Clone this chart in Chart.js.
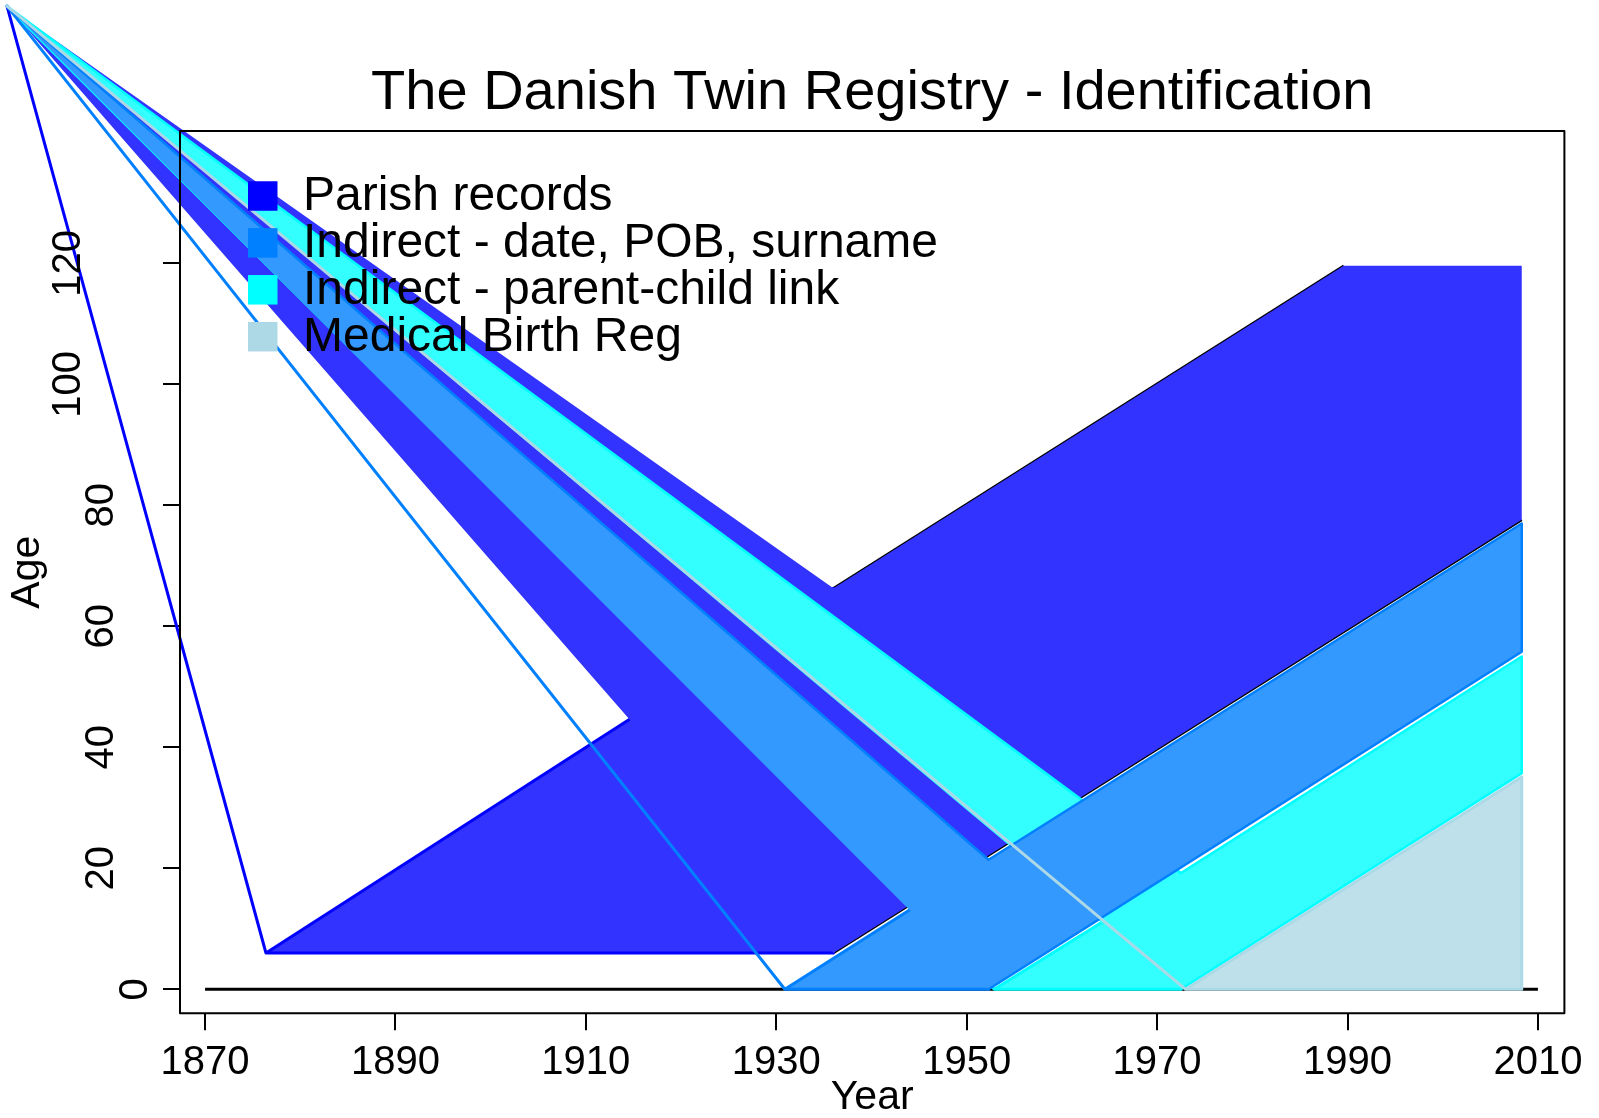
<!DOCTYPE html>
<html>
<head>
<meta charset="utf-8">
<script src="https://cdn.jsdelivr.net/npm/chart.js@4.4.1/dist/chart.umd.min.js"></script>
<style>
html,body{margin:0;padding:0;background:#ffffff;overflow:hidden}
canvas{display:block}
</style>
</head>
<body>
<canvas id="c" width="1599" height="1118"></canvas>
<script>
// ------------------------------------------------------------------
// Data (x = calendar year, y = age)
// ------------------------------------------------------------------
const chartTitle = 'The Danish Twin Registry - Identification';
const groupNames = ['Parish records', 'Indirect - date, POB, surname', 'Indirect - parent-child link', 'Medical Birth Reg'];
const groupLineColors = ['#0000FF', '#0080FF', '#00FFFF', '#ADD8E6'];
const groupFillColors = ['#3333FF', '#3399FF', '#33FFFF', '#BDE0EB'];
const xTickLabels = ['1870', '1890', '1910', '1930', '1950', '1970', '1990', '2010'];
const yTickLabels = ['0', '20', '40', '60', '80', '100', '120'];

// stray vertex shared by every polygon (top-left corner of the picture)
const cornerYear = [1849.2];
const cornerAge = [162.5];

// Parish records
const parishFirstYears = [1876.4, 1936.0, 1936.0];
const parishFirstAges  = [6.0, 6.0, 66.3];
const parishLaterYears = [1936.0, 2008.3, 2008.3, 1989.6, 1936.0];
const parishLaterAges  = [6.0, 77.6, 119.6, 119.6, 66.3];

// Indirect - date, POB, surname
const indirectFirstYears = [1930.9, 1952.3, 1952.3];
const indirectFirstAges  = [0.0, 0.0, 21.4];
const indirectLaterYears = [1952.3, 2008.3, 2008.3, 1952.3];
const indirectLaterAges  = [0.0, 55.8, 77.0, 21.4];

// Indirect - parent-child link
const parentFirstYears = [1952.9, 1972.5, 1972.5];
const parentFirstAges  = [0.0, 0.0, 19.2];
const parentLaterYears = [1972.5, 2008.3, 2008.3, 1972.5];
const parentLaterAges  = [0.0, 35.7, 55.0, 19.2];

// Medical Birth Reg
const mbrFirstYears = [1973.0, 2008.3, 2008.3];
const mbrFirstAges  = [0.0, 0.0, 35.1];

// black reference lines
const zeroLineYears = [1870, 2010];
const zeroLineAges  = [0, 0];
const upperCohortYears = [1936.0, 1989.6];
const upperCohortAges  = [66.3, 119.6];
const lowerCohortYears = [1936.0, 2008.3];
const lowerCohortAges  = [6.0, 77.6];

// ------------------------------------------------------------------
const FONT = '"Liberation Sans", Arial, Helvetica, sans-serif';
const toPts = (xs, ys) => xs.map((v, i) => ({x: v, y: ys[i]}));
const corner = {x: cornerYear[0], y: cornerAge[0]};

function firstPiece(xs, ys, g) {
  const p = toPts(xs, ys);
  return {role: 'first', group: g, data: [corner, p[0], p[1], p[2], p[0]],
          showLine: false, pointRadius: 0, pointHoverRadius: 0};
}
function laterPiece(xs, ys, g, stroke) {
  return {role: 'later', group: g, stroke: stroke, data: [corner].concat(toPts(xs, ys)),
          showLine: false, pointRadius: 0, pointHoverRadius: 0};
}
function refLine(xs, ys, w) {
  return {role: 'ref', data: toPts(xs, ys), showLine: true, borderColor: '#000000',
          borderWidth: w, pointRadius: 0, pointHoverRadius: 0, fill: false};
}

const datasets = [
  refLine(zeroLineYears, zeroLineAges, 3),
  refLine(upperCohortYears, upperCohortAges, 2.5),
  refLine(lowerCohortYears, lowerCohortAges, 2.5),
  firstPiece(parishFirstYears, parishFirstAges, 0),
  laterPiece(parishLaterYears, parishLaterAges, 0, false),
  firstPiece(parentFirstYears, parentFirstAges, 2),
  laterPiece(parentLaterYears, parentLaterAges, 2, true),
  firstPiece(indirectFirstYears, indirectFirstAges, 1),
  laterPiece(indirectLaterYears, indirectLaterAges, 1, true),
  firstPiece(mbrFirstYears, mbrFirstAges, 3)
];

const lexisPlugin = {
  id: 'lexisPolygons',
  afterDatasetsDraw(chart) {
    const {ctx, chartArea: a, scales: {x, y}} = chart;
    const px = d => [x.getPixelForValue(d.x), y.getPixelForValue(d.y)];
    const trace = pts => { ctx.beginPath(); pts.forEach((q, i) => i ? ctx.lineTo(q[0], q[1]) : ctx.moveTo(q[0], q[1])); };
    ctx.save();
    ctx.lineJoin = 'round';
    ctx.lineCap = 'round';
    chart.data.datasets.forEach(ds => {
      if (ds.role !== 'first' && ds.role !== 'later') return;
      const p = ds.data.map(px);
      trace(p);
      ctx.closePath();
      ctx.fillStyle = groupFillColors[ds.group];
      ctx.fill();
      if (ds.role === 'first') {
        trace(p);
        ctx.strokeStyle = groupLineColors[ds.group];
        ctx.lineWidth = 3;
        ctx.stroke();
      } else if (ds.stroke) {
        trace(p.slice(1).concat([p[0]]));
        ctx.strokeStyle = groupLineColors[ds.group];
        ctx.lineWidth = 2.5;
        ctx.stroke();
      }
    });
    // plot box
    ctx.strokeStyle = '#000000';
    ctx.lineWidth = 2;
    ctx.lineCap = 'butt';
    ctx.strokeRect(a.left, a.top, a.right - a.left, a.bottom - a.top);
    // tick labels
    ctx.fillStyle = '#000000';
    ctx.font = '40px ' + FONT;
    ctx.textAlign = 'center';
    ctx.textBaseline = 'alphabetic';
    xTickLabels.forEach(t => ctx.fillText(t, x.getPixelForValue(Number(t)), a.bottom + 61));
    yTickLabels.forEach(t => {
      ctx.save();
      ctx.translate(a.left - 33.3 - 33.4 * (t.length - 1), y.getPixelForValue(Number(t)));
      ctx.rotate(-Math.PI / 2);
      ctx.fillText(t, 0, 0);
      ctx.restore();
    });
    // legend
    ctx.font = '48px ' + FONT;
    ctx.textAlign = 'left';
    groupNames.forEach((name, i) => {
      const cy = a.top + 65 + 46.9 * i;
      ctx.fillStyle = groupLineColors[i];
      ctx.fillRect(a.left + 68, cy - 14.75, 29.5, 29.5);
      ctx.fillStyle = '#000000';
      ctx.fillText(name, a.left + 123, cy + 14);
    });
    ctx.restore();
  }
};

new Chart(document.getElementById('c').getContext('2d'), {
  type: 'scatter',
  data: {datasets: datasets},
  options: {
    responsive: false,
    animation: false,
    devicePixelRatio: 1,
    events: [],
    layout: {padding: {left: 0, right: 34.6, top: 0, bottom: 0}},
    plugins: {
      legend: {display: false},
      tooltip: {enabled: false},
      title: {
        display: true, text: chartTitle, color: '#000000', fullSize: false,
        font: {family: FONT, size: 56, weight: 'normal', lineHeight: 1},
        padding: {top: 66, bottom: 9}
      }
    },
    scales: {
      x: {
        type: 'linear', position: 'bottom', min: 1867.37, max: 2012.78,
        afterBuildTicks: s => { s.ticks = xTickLabels.map(t => ({value: Number(t)})); },
        afterFit: s => { s.height = 104.7; },
        ticks: {display: false},
        border: {display: false},
        grid: {drawOnChartArea: false, drawTicks: true, tickLength: 17, color: '#000000', lineWidth: 2, tickWidth: 2, tickColor: '#000000'},
        title: {display: true, text: 'Year', color: '#000000', font: {family: FONT, size: 41, lineHeight: 1}, padding: 0}
      },
      y: {
        type: 'linear', position: 'left', min: -3.97, max: 141.87,
        afterBuildTicks: s => { s.ticks = yTickLabels.map(t => ({value: Number(t)})); },
        afterFit: s => { s.width = 180; },
        ticks: {display: false},
        border: {display: false},
        grid: {drawOnChartArea: false, drawTicks: true, tickLength: 17, color: '#000000', lineWidth: 2, tickWidth: 2, tickColor: '#000000'},
        title: {display: true, text: 'Age', color: '#000000', font: {family: FONT, size: 41, lineHeight: 1}, padding: {top: 7.2, bottom: 0}}
      }
    }
  },
  plugins: [lexisPlugin]
});
</script>
</body>
</html>
